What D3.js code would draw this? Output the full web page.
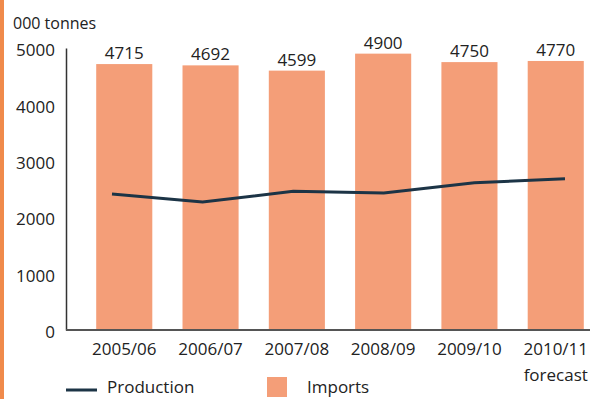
<!DOCTYPE html>
<html>
<head>
  <meta charset="utf-8">
  <title>Production and imports</title>
  <script src="https://d3js.org/d3.v7.min.js"></script>
  <style>
    body { margin: 0; background: #fff; }
    text { font-family: "Open Sans", sans-serif; fill: #222; }
  </style>
</head>
<body>
<div id="chart"></div>
<script>
  // data
  var seasons = ["2005/06", "2006/07", "2007/08", "2008/09", "2009/10", "2010/11"];
  var imports = [4715, 4692, 4599, 4900, 4750, 4770];
  var production = [2410, 2270, 2460, 2430, 2610, 2680];
  var yTicks = [0, 1000, 2000, 3000, 4000, 5000];

  var width = 590, height = 399;
  var barColor = "#f49e78", lineColor = "#1c3446";
  var fs = 17;

  var svg = d3.select("#chart").append("svg")
    .attr("width", width).attr("height", height);

  // orange frame line on the left
  svg.append("rect").attr("x", 0).attr("y", 0).attr("width", 4).attr("height", height)
    .attr("fill", "#f08a4b");

  var x = d3.scaleBand().domain(seasons).range([66, 614]).padding(0.35);
  var xl = d3.scalePoint().domain(seasons).range([112, 565]);
  var y = d3.scaleLinear().domain([0, 5000]).range([330, 48]);

  // bars
  svg.selectAll(".bar").data(seasons).enter().append("rect")
    .attr("class", "bar")
    .attr("x", function(d) { return x(d); })
    .attr("width", x.bandwidth())
    .attr("y", function(d, i) { return y(imports[i]); })
    .attr("height", function(d, i) { return y(0) - y(imports[i]); })
    .attr("fill", barColor);

  // value labels
  svg.selectAll(".val").data(seasons).enter().append("text")
    .attr("x", function(d) { return x(d) + x.bandwidth() / 2; })
    .attr("y", function(d, i) { return y(imports[i]) - 5; })
    .attr("text-anchor", "middle")
    .attr("font-size", fs)
    .text(function(d, i) { return imports[i]; });

  // production line
  var line = d3.line()
    .x(function(d, i) { return xl(seasons[i]); })
    .y(function(d) { return y(d); });
  svg.append("path").datum(production)
    .attr("d", line)
    .attr("fill", "none").attr("stroke", lineColor).attr("stroke-width", 3);

  // y axis
  var yAxis = svg.append("g").attr("transform", "translate(66,0)")
    .call(d3.axisLeft(y).tickValues(yTicks).tickFormat(d3.format("d")).tickSize(0).tickPadding(11));
  yAxis.select(".domain").attr("stroke", "#333").attr("stroke-width", 1.5);
  yAxis.selectAll("text").attr("font-size", fs).attr("dy", "0.45em").attr("font-family", "Open Sans").attr("fill", "#222");

  // x axis
  var xAxis = svg.append("g").attr("transform", "translate(0,330)")
    .call(d3.axisBottom(x).tickSize(0).tickPadding(13));
  xAxis.select(".domain").remove();
  svg.append("line").attr("x1", 66).attr("x2", width).attr("y1", 330).attr("y2", 330)
    .attr("stroke", "#555").attr("stroke-width", 2);
  xAxis.selectAll("text").attr("font-size", fs).attr("font-family", "Open Sans").attr("fill", "#222");

  svg.append("text").attr("x", x("2010/11") + x.bandwidth() / 2).attr("y", 381)
    .attr("text-anchor", "middle").attr("font-size", fs).text("forecast");

  svg.append("text").attr("x", 13).attr("y", 29).attr("font-size", fs - 1).text("000 tonnes");

  // legend
  svg.append("line").attr("x1", 66).attr("x2", 97).attr("y1", 390).attr("y2", 390)
    .attr("stroke", lineColor).attr("stroke-width", 3);
  svg.append("text").attr("x", 107).attr("y", 393).attr("font-size", fs).text("Production");
  svg.append("rect").attr("x", 267).attr("y", 377).attr("width", 20).attr("height", 20)
    .attr("fill", barColor);
  svg.append("text").attr("x", 307).attr("y", 393).attr("font-size", fs).text("Imports");
</script>
</body>
</html>
